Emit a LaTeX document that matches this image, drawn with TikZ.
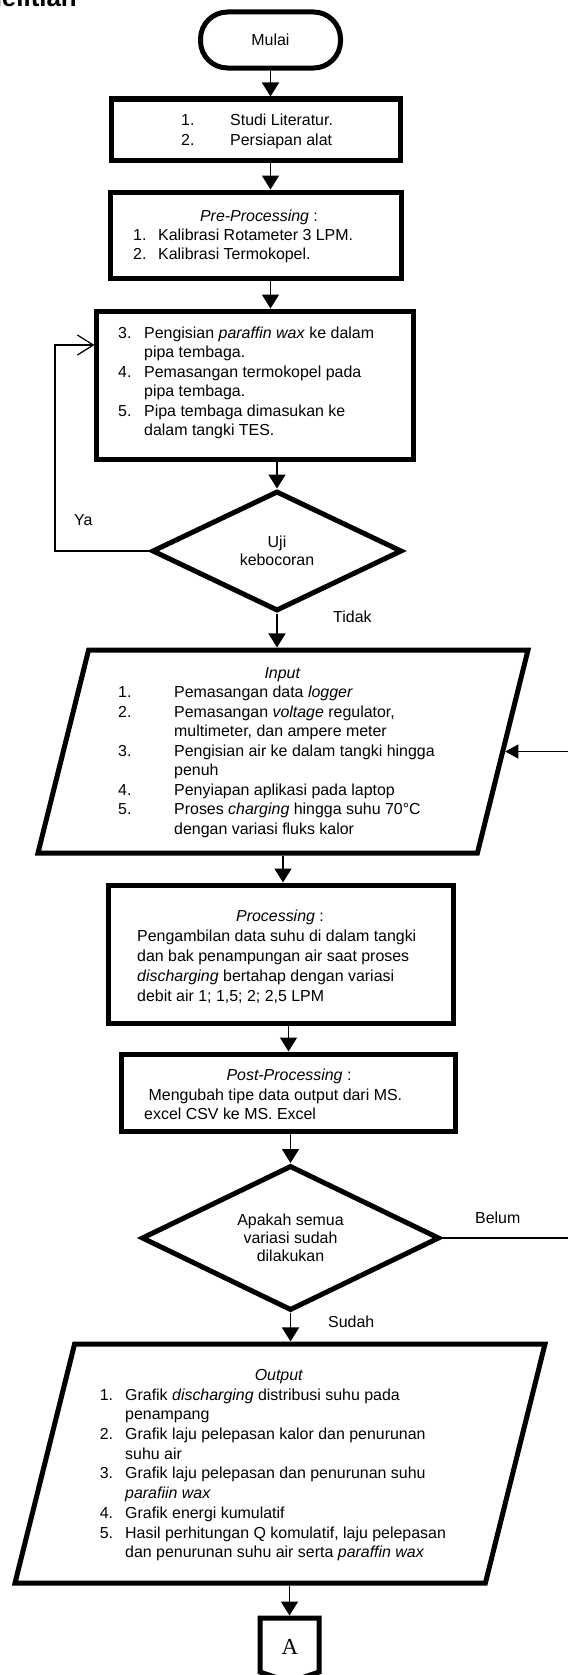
\documentclass[tikz,border=0pt]{standalone}
\usepackage{fontspec}
\setmainfont{Liberation Sans}
\newfontfamily\hurufserif{Liberation Serif}
\usetikzlibrary{shapes.geometric,shapes.symbols,arrows.meta}

\begin{document}
\begin{tikzpicture}[x=1bp, y=-1bp,
    kotak/.style={draw, line width=5bp, inner sep=0pt},
    awal/.style={kotak, rounded corners=27bp, minimum width=140bp, minimum height=56bp},
    proses/.style={kotak, rectangle},
    keputusan/.style={kotak, diamond, aspect=2, align=center, font=\fontsize{16}{18}\selectfont},
    masukan/.style={kotak, trapezium, trapezium left angle=76, trapezium right angle=104},
    panah/.style={line width=1.6bp, -{Triangle[length=14bp,width=17bp]}},
    balik/.style={line width=1.2bp},
    teks/.style={anchor=base west, inner sep=0pt, font=\fontsize{16}{#1}\selectfont},
    teks/.default=19.6,
    judul/.style={anchor=base, inner sep=0pt, font=\fontsize{16}{19.6}\selectfont},
    ket/.style={anchor=base west, inner sep=0pt, font=\fontsize{16}{19.6}\selectfont}]

    \useasboundingbox (0,0) rectangle (568,1675);

    \node[anchor=base east, inner sep=0pt, font=\fontsize{26}{26}\selectfont\bfseries] (bab) at (77,6.5) {Penelitian};

    % kotak-kotak
    \node[awal] (mulai) at (270.5,40) {\fontsize{16}{19.6}\selectfont Mulai};
    \node[proses, minimum width=288bp, minimum height=61bp] (studi) at (256,129.5) {};
    \node[proses, minimum width=290bp, minimum height=86bp] (pre) at (256,235) {};
    \node[proses, minimum width=316bp, minimum height=148bp] (isi) at (255,385) {};
    \node[keputusan, minimum width=250bp, minimum height=120bp] (uji) at (277,551) {Uji\\kebocoran};
    \node[masukan, inner xsep=194.4bp, inner ysep=101.5bp] (input) at (283,751.5) {};
    \node[proses, minimum width=345bp, minimum height=138bp] (pro) at (281,954) {};
    \node[proses, minimum width=333bp, minimum height=77bp] (post) at (288.5,1092.5) {};
    \node[keputusan, minimum width=298bp, minimum height=145bp] (semua) at (290.5,1238) {Apakah semua\\variasi sudah\\dilakukan};
    \node[masukan, inner xsep=205.4bp, inner ysep=119.5bp] (output) at (280,1463.5) {};
    \node[kotak, signal, signal to=south, signal from=nowhere, signal pointer angle=142,
          minimum width=59bp, minimum height=54bp] (konektor) at (289.5,1645) {};
    \node[anchor=base, inner sep=0pt, font=\hurufserif\fontsize{23}{23}\selectfont] (hurufA) at (290,1654) {A};

    % isi kotak
    \node[teks] (studiisi) at (181,125.5) {\begin{tabular}[t]{@{}p{49bp}@{}l@{}}
        1. & Studi Literatur.\\
        2. & Persiapan alat\end{tabular}};

    \node[judul] (prejudul) at (259,221.5) {\textit{Pre-Processing} :};
    \node[teks=19] (preisi) at (133,240.5) {\begin{tabular}[t]{@{}p{25bp}@{}l@{}}
        1. & Kalibrasi Rotameter 3 LPM.\\
        2. & Kalibrasi Termokopel.\end{tabular}};

    \node[teks] (isiteks) at (118,338) {\begin{tabular}[t]{@{}p{26bp}@{}l@{}}
        3. & Pengisian \textit{paraffin wax} ke dalam\\
           & pipa tembaga.\\
        4. & Pemasangan termokopel pada\\
           & pipa tembaga.\\
        5. & Pipa tembaga dimasukan ke\\
           & dalam tangki TES.\end{tabular}};

    \node[judul] (injudul) at (282.5,678) {\textit{Input}};
    \node[teks] (inisi) at (118,697.6) {\begin{tabular}[t]{@{}p{56bp}@{}l@{}}
        1. & Pemasangan data \textit{logger}\\
        2. & Pemasangan \textit{voltage} regulator,\\
           & multimeter, dan ampere meter\\
        3. & Pengisian air ke dalam tangki hingga\\
           & penuh\\
        4. & Penyiapan aplikasi pada laptop\\
        5. & Proses \textit{charging} hingga suhu 70°C\\
           & dengan variasi fluks kalor\end{tabular}};

    \node[judul] (projudul) at (280,921.7) {\textit{Processing} :};
    \node[teks=20] (proisi) at (137,941.7) {\begin{tabular}[t]{@{}l@{}}
        Pengambilan data suhu di dalam tangki\\
        dan bak penampungan air saat proses\\
        \textit{discharging} bertahap dengan variasi\\
        debit air 1; 1,5; 2; 2,5 LPM\end{tabular}};

    \node[judul] (postjudul) at (289,1080) {\textit{Post-Processing} :};
    \node[teks=20] (postisi) at (144,1100) {\begin{tabular}[t]{@{}l@{}}
        \hspace*{4.5bp}Mengubah tipe data output dari MS.\\
        excel CSV ke MS. Excel\end{tabular}};

    \node[judul] (outjudul) at (279,1380) {\textit{Output}};
    \node[teks=19.8] (outisi) at (99.6,1400) {\begin{tabular}[t]{@{}p{25.4bp}@{}l@{}}
        1. & Grafik \textit{discharging} distribusi suhu pada\\
           & penampang\\
        2. & Grafik laju pelepasan kalor dan penurunan\\
           & suhu air\\
        3. & Grafik laju pelepasan dan penurunan suhu\\
           & \textit{parafiin wax}\\
        4. & Grafik energi kumulatif\\
        5. & Hasil perhitungan Q komulatif, laju pelepasan\\
           & dan penurunan suhu air serta \textit{paraffin wax}\end{tabular}};

    % panah
    \draw[panah] (mulai.south) -- (mulai.south |- studi.north);
    \draw[panah] (mulai.south |- studi.south) -- (mulai.south |- pre.north);
    \draw[panah] (mulai.south |- pre.south) -- (mulai.south |- isi.north);
    \draw[panah] (uji.north |- isi.south) -- (uji.north);
    \draw[panah] (uji.south) -- (uji.south |- input.north);
    \draw[panah] (input.south) -- (input.south |- pro.north);
    \draw[panah] (post.north |- pro.south) -- (post.north);
    \draw[panah] (semua.north |- post.south) -- (semua.north);
    \draw[panah] (semua.south) -- (semua.south |- output.north);
    \draw[panah] (konektor.north |- output.south) -- (konektor.north);

    \coordinate (belok) at (55,345);
    \draw[balik, -{Straight Barb[length=16bp,width=20bp]}] (uji.west) -| (belok) -- (belok -| isi.west);
    \coordinate (rel) at (580,1000);
    \draw[balik, -{Triangle[length=13bp,width=14bp]}] (semua.east) -| (rel |- input.right side) -- (input.right side);

    \node[ket] (ya) at (74,525) {Ya};
    \node[ket] (tidak) at (333,622) {Tidak};
    \node[ket] (belum) at (475,1223) {Belum};
    \node[ket] (sudah) at (328,1327) {Sudah};
\end{tikzpicture}
\end{document}
